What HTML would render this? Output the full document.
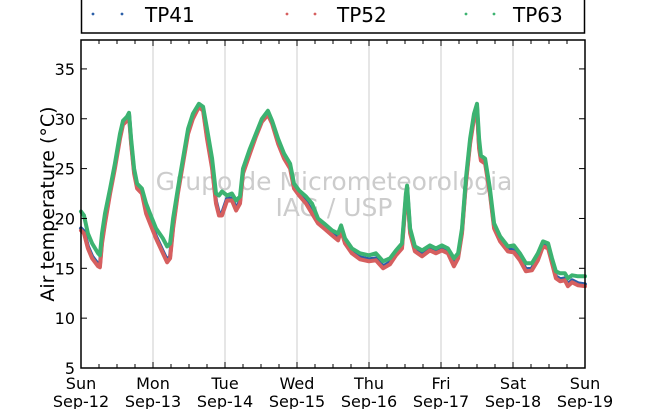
<!DOCTYPE html>
<html><head><meta charset="utf-8"><style>
body{margin:0;background:#fff;}
svg{display:block;font-family:"DejaVu Sans","Liberation Sans",sans-serif;}
</style></head><body>
<svg id="chart" width="650" height="409" viewBox="0 0 650 409">
<g id="legend">
<rect x="81.5" y="-10" width="503" height="43" fill="#fff" stroke="#000" stroke-width="1.5"/>
<g><circle cx="93" cy="14" r="1.4" fill="#2b5fa8"/><circle cx="122" cy="14" r="1.4" fill="#2b5fa8"/><text x="145" y="22" font-size="20">TP41</text></g>
<g><circle cx="287" cy="14" r="1.4" fill="#d65f5f"/><circle cx="315" cy="14" r="1.4" fill="#d65f5f"/><text x="337" y="22" font-size="20">TP52</text></g>
<g><circle cx="466" cy="14" r="1.4" fill="#3cb371"/><circle cx="494" cy="14" r="1.4" fill="#3cb371"/><text x="513" y="22" font-size="20">TP63</text></g>
</g>
<g id="grid"></g>
<text x="334" y="190" font-size="25" fill="#cccccc" text-anchor="middle">Grupo de Micrometeorologia</text>
<text x="334" y="216" font-size="25" fill="#cccccc" text-anchor="middle">IAG / USP</text>
<g id="series"></g>
<rect x="81" y="40" width="504" height="328" fill="none" stroke="#000" stroke-width="1.5"/>
<g id="axes"></g>
<text transform="translate(54,204) rotate(-90)" font-size="19" text-anchor="middle">Air temperature (°C)</text>
</svg>
<script>
const hours=[0,1,2.3,3.7,4.7,5.7,6.3,7,8,9.7,11.3,13,14,15.3,16,16.7,17.7,18.7,20.3,21.7,23,25,27.3,28.7,29.7,30.7,32.3,34,35.7,37.3,39.3,40.7,42,43.7,45,46,47,48.7,50.3,51.7,53,54,56.3,58.3,60.3,62.3,63.7,65.7,67.7,69.7,71,72.7,75,77,79,81,83.7,85.7,86.7,88,90.3,93,96,98.3,100.7,103,105,107,108.3,108.7,109.7,111.3,113.7,116.3,118.3,120.3,122.3,124.3,125.7,127,128.3,129.7,131,132,132.7,133.3,134.7,136.3,137.7,139.7,142.3,144.3,146.3,148.3,150.3,152.3,154,155.7,157,158.3,159.7,161.3,162.3,163.7,165.7,168];
const tp63=[20.7,20.3,18.5,17.5,17,16.5,16.3,18.5,20.5,23,25.5,28.5,29.8,30.2,30.6,28,25,23.5,23,21.5,20.5,19,18,17.2,17.5,20,23,26,29,30.5,31.5,31.2,29,26,22.5,22.3,22.7,22.3,22.5,21.8,22.2,25,27,28.5,30,30.8,29.8,28,26.5,25.5,23.5,22.8,22.2,21.5,20,19.5,18.8,18.5,19.3,18,17,16.5,16.3,16.5,15.7,16,16.8,17.5,22.5,23.3,19,17.2,16.8,17.3,17,17.3,17,16,16.5,19,24,28,30.5,31.5,28,26.3,26,23,19.5,18.2,17.2,17.3,16.5,15.5,15.5,16.5,17.7,17.5,16,14.7,14.5,14.5,14,14.3,14.2,14.2];
const tp52=[18.8,18.5,17,16,15.6,15.2,15.1,17.5,19.5,22.5,25,28,29.4,29.8,30.3,27.5,24.5,23,22.5,20.5,19.5,18,16.5,15.6,16,19,22.5,25.5,28.5,30,31.2,30.8,28,25,21.5,20.3,20.3,21.8,21.8,20.8,21.5,24.5,26.5,28.2,29.7,30.4,29.5,27.5,26,25,23,22.3,21.5,20.5,19.5,19,18.3,17.8,18.8,17.5,16.5,15.9,15.7,15.8,15,15.4,16.3,17,22,22.8,18.5,16.7,16.2,16.8,16.5,16.8,16.5,15.2,16,18.5,23.5,27.5,30,31,27,25.8,25.5,22.5,19,17.7,16.7,16.6,15.8,14.7,14.8,15.8,17.2,17,15.5,14,13.7,13.8,13.2,13.6,13.3,13.2];
const tp41=[19,18.7,17.2,16.2,15.8,15.4,15.3,17.7,19.7,22.7,25.2,28.2,29.6,30,30.5,27.7,24.7,23.2,22.7,20.7,19.7,18.2,16.7,15.8,16.2,19.2,22.7,25.7,28.7,30.2,31.4,31,28.2,25.2,21.7,20.5,20.5,22,22,21,21.7,24.7,26.7,28.4,29.9,30.6,29.7,27.7,26.2,25.2,23.2,22.5,21.7,20.7,19.7,19.2,18.5,18,19,17.7,16.7,16.1,15.9,16,15.2,15.6,16.5,17.2,22.2,23,18.7,16.9,16.4,17,16.7,17,16.7,15.4,16.2,18.7,23.7,27.7,30.2,31.2,27.2,26,25.7,22.7,19.2,17.9,16.9,16.8,16,14.9,15,16,17.4,17.2,15.7,14.2,13.9,14,13.4,13.8,13.5,13.4];
const yTicks=[5,10,15,20,25,30,35];
const dayNames=["Sun","Mon","Tue","Wed","Thu","Fri","Sat","Sun"];
const dayDates=["Sep-12","Sep-13","Sep-14","Sep-15","Sep-16","Sep-17","Sep-18","Sep-19"];
const NS="http://www.w3.org/2000/svg";
const X0=81,X1=585,Y0=368,Y1=40,TMIN=5,TMAX=37.9,HMAX=168;
function xs(h){return X0+(X1-X0)*h/HMAX;}
function ys(t){return Y0-(Y0-Y1)*(t-TMIN)/(TMAX-TMIN);}
function mk(tag,attrs,parent){const e=document.createElementNS(NS,tag);for(const k in attrs)e.setAttribute(k,attrs[k]);parent.appendChild(e);return e;}
const grid=document.getElementById('grid'),axes=document.getElementById('axes'),series=document.getElementById('series');
dayNames.forEach((d,i)=>{
  const x=xs(i*24);
  if(i>0&&i<7){const g=mk('line',{x1:x,x2:x,y1:Y1,y2:Y0,stroke:'#cccccc','stroke-width':1},grid);
  
  }
  const t=mk('text',{x:x,y:389,'font-size':16,'text-anchor':'middle'},axes);t.textContent=d;
  
  
  const t2=mk('text',{x:x,y:407,'font-size':16,'text-anchor':'middle'},axes);t2.textContent=dayDates[i];
  
  
});
for(let h=0;h<=HMAX;h+=6){const x=xs(h);const L=(h%24===0)?6:4;
  const a=mk('line',{x1:x,x2:x,y1:Y0,y2:Y0-L,stroke:'#000'},axes);
  
  
  const b=mk('line',{x1:x,x2:x,y1:Y1,y2:Y1+L,stroke:'#000'},axes);
  
  }
yTicks.forEach(v=>{const y=ys(v);
  const a=mk('line',{x1:X0,x2:X0+6,y1:y,y2:y,stroke:'#000'},axes);
  
  
  const b=mk('line',{x1:X1,x2:X1-6,y1:y,y2:y,stroke:'#000'},axes);
  
  
  const t=mk('text',{x:75,y:y+6,'font-size':16,'text-anchor':'end'},axes);t.textContent=v;
  
  });
function draw(vals,color,name){
  const pts=hours.map((h,i)=>xs(h).toFixed(1)+','+ys(vals[i]).toFixed(1)).join(' ');
  const p=mk('polyline',{points:pts,fill:'none',stroke:color,'stroke-width':4,'stroke-linejoin':'round','stroke-linecap':'round'},series);
  
  
}
draw(tp41,'#2b5fa8','series-tp41');
draw(tp52,'#d65f5f','series-tp52');
draw(tp63,'#3cb371','series-tp63');
</script>
</body></html>
